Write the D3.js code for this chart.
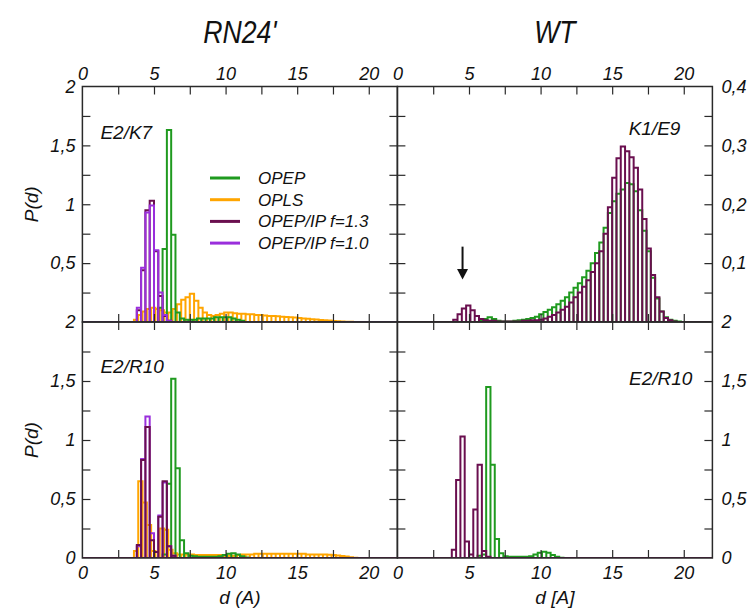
<!DOCTYPE html>
<html>
<head>
<meta charset="utf-8">
<script src="https://cdn.jsdelivr.net/npm/d3@7"></script>
<style>
  body { margin: 0; background: #fff; }
  svg text { font-family: "Liberation Sans", Arial, sans-serif; font-style: italic; fill: #111; }
  .tick-label text { font-size: 18px; }
  .panel-label { font-size: 19px; }
  .legend text { font-size: 17px; }
  .axis-title { font-size: 19px; }
  .col-title { font-size: 31px; }
</style>
</head>
<body>
<svg id="chart" width="755" height="611"></svg>
<script>
// ---- data ----
const BIN = 0.3;                       // histogram bin width, Angstrom
const columns = ["RN24'", "WT"];
const xTitles = ["d (A)", "d [A]"];
const xLabelTicks = [0, 5, 10, 15, 20];
const xMinorTicks = [2.5, 5, 7.5, 10, 12.5, 15, 17.5, 20];
const yLabelTicksP = [0, 0.5, 1, 1.5, 2];
const yMinorTicksP = [0.25, 0.5, 0.75, 1, 1.25, 1.5, 1.75];
const yLabelTicksWT = [0.1, 0.2, 0.3, 0.4];
const yMinorTicksWT = [0.05, 0.1, 0.15, 0.2, 0.25, 0.3, 0.35];
const seriesNames = ["OPEP", "OPLS", "OPEP/IP f=1.3", "OPEP/IP f=1.0"];

// RN24' E2/K7
const k7Opep = { from: 5.3, p: [0.12, 0.62, 1.63, 0.74, 0.08, 0.03, 0.02, 0.02, 0.02, 0.03, 0.03, 0.03, 0.03, 0.04, 0.04, 0.04, 0.04, 0.03, 0.02, 0.01] };
const k7Opls = { from: 3.6, p: [0.02, 0.06, 0.09, 0.11, 0.12, 0.11, 0.10, 0.08, 0.08, 0.11, 0.15, 0.19, 0.21, 0.24, 0.18, 0.12, 0.08, 0.06, 0.05, 0.06, 0.07, 0.08, 0.08, 0.075, 0.07, 0.07, 0.065, 0.065, 0.06, 0.06, 0.055, 0.05, 0.05, 0.048, 0.045, 0.043, 0.04, 0.038, 0.035, 0.03, 0.027, 0.024, 0.021, 0.018, 0.015, 0.012, 0.009, 0.007, 0.005, 0.003, 0.002, 0.001] };
const k7Ip13 = { from: 3.8, p: [0.10, 0.44, 0.95, 1.03, 0.60, 0.22, 0.05, 0.01] };
const k7Ip10 = { from: 3.8, p: [0.12, 0.46, 0.93, 0.99, 0.61, 0.25, 0.06, 0.01] };

// RN24' E2/R10
const r10Opep = { from: 5.6, p: [0.03, 0.63, 1.52, 0.76, 0.15, 0.04, 0.02, 0.015, 0.01, 0.01, 0.01, 0.01, 0.01, 0.015, 0.025, 0.035, 0.04, 0.03, 0.015, 0.005] };
const r10Opls = { from: 3.6, p: [0.06, 0.65, 0.47, 0.28, 0.06, 0.05, 0.25, 0.24, 0.07, 0.04, 0.03, 0.03, 0.03, 0.03, 0.025, 0.025, 0.025, 0.025, 0.025, 0.025, 0.025, 0.02, 0.02, 0.02, 0.025, 0.03, 0.03, 0.03, 0.035, 0.035, 0.035, 0.035, 0.035, 0.035, 0.035, 0.035, 0.035, 0.035, 0.035, 0.035, 0.03, 0.03, 0.03, 0.03, 0.03, 0.028, 0.025, 0.022, 0.018, 0.012, 0.007, 0.003, 0.001] };
const r10Ip13 = { from: 3.8, p: [0.11, 0.83, 1.11, 0.15, 0.05, 0.35, 0.65, 0.10, 0.02] };
const r10Ip10 = { from: 3.8, p: [0.10, 0.84, 1.20, 0.21, 0.05, 0.36, 0.64, 0.10, 0.02] };

// WT K1/E9
const wtE9Opep = { from: 5.7, p: [0.002, 0.005, 0.008, 0.005, 0.002, 0.001, 0.001, 0.001, 0.002, 0.003, 0.004, 0.005, 0.007, 0.009, 0.013, 0.017, 0.021, 0.025, 0.03, 0.036, 0.042, 0.05, 0.058, 0.066, 0.076, 0.087, 0.10, 0.117, 0.135, 0.16, 0.185, 0.205, 0.218, 0.225, 0.236, 0.234, 0.222, 0.19, 0.155, 0.12, 0.075, 0.04, 0.018, 0.008, 0.004, 0.002, 0.001] };
const wtE9Ip13 = { from: 3.9, p: [0.004, 0.013, 0.023, 0.028, 0.02, 0.01, 0.005, 0.003, 0.002, 0.002, 0.001, 0.001, 0.001, 0.001, 0.001, 0.001, 0.002, 0.002, 0.003, 0.003, 0.004, 0.006, 0.009, 0.012, 0.016, 0.021, 0.026, 0.033, 0.042, 0.05, 0.06, 0.071, 0.085, 0.10, 0.12, 0.15, 0.195, 0.245, 0.278, 0.298, 0.29, 0.28, 0.262, 0.225, 0.175, 0.125, 0.08, 0.042, 0.018, 0.007, 0.003, 0.001] };

// WT E2/R10
const wtR10Opep = { from: 5.6, p: [0.02, 0.03, 1.45, 0.79, 0.16, 0.04, 0.015, 0.01, 0.01, 0.01, 0.01, 0.01, 0.015, 0.03, 0.045, 0.053, 0.045, 0.025, 0.01, 0.003] };
const wtR10Ip13 = { from: 3.8, p: [0.07, 0.66, 1.03, 0.14, 0.03, 0.41, 0.79, 0.06, 0.01] };

// ---- styles ----
const colors = {
  "OPEP": "#1f9a1f",
  "OPLS": "#ffa500",
  "OPEP/IP f=1.3": "#6a0f4f",
  "OPEP/IP f=1.0": "#9a2fdc"
};
const frameColor = "#2a2a2a";

const panels = [
  { col: 0, row: 0, label: "E2/K7", yMax: 2, series: [["OPLS", k7Opls], ["OPEP", k7Opep], ["OPEP/IP f=1.3", k7Ip13], ["OPEP/IP f=1.0", k7Ip10]] },
  { col: 1, row: 0, label: "K1/E9", yMax: 0.4, series: [["OPEP", wtE9Opep], ["OPEP/IP f=1.3", wtE9Ip13]] },
  { col: 0, row: 1, label: "E2/R10", yMax: 2, series: [["OPLS", r10Opls], ["OPEP", r10Opep], ["OPEP/IP f=1.0", r10Ip10], ["OPEP/IP f=1.3", r10Ip13]] },
  { col: 1, row: 1, label: "E2/R10", yMax: 2, series: [["OPEP", wtR10Opep], ["OPEP/IP f=1.3", wtR10Ip13]] }
];

// ---- layout ----
const colEdges = [82.4, 397.4, 712.4];
const rowEdges = [86.5, 322, 558];
const tickLen = 8;
const fmt = d => d3.format("~g")(d).replace(".", ",");

const svg = d3.select("#chart");

const xScales = [0, 1].map(c => d3.scaleLinear().domain([0, 22]).range([colEdges[c], colEdges[c + 1]]));

// clip paths
const defs = svg.append("defs");
panels.forEach((p, i) => {
  defs.append("clipPath").attr("id", "clip" + i)
    .append("rect")
    .attr("x", colEdges[p.col]).attr("y", rowEdges[p.row])
    .attr("width", colEdges[p.col + 1] - colEdges[p.col])
    .attr("height", rowEdges[p.row + 1] - rowEdges[p.row]);
});

function styleTicks(g) {
  g.select(".domain").remove();
  g.selectAll(".tick line").attr("stroke", frameColor).attr("stroke-width", 1.2);
}

panels.forEach((p, i) => {
  const x = xScales[p.col];
  const y = d3.scaleLinear().domain([0, p.yMax]).range([rowEdges[p.row + 1], rowEdges[p.row]]);
  p.y = y;
  const y0 = y(0);

  // histograms drawn as outlined bins
  const hist = svg.append("g").attr("clip-path", `url(#clip${i})`);
  p.series.forEach(([name, s]) => {
    let d = "";
    s.p.forEach((v, k) => {
      const x0 = x(s.from + k * BIN), x1 = x(s.from + (k + 1) * BIN);
      d += `M${x0},${y0}V${y(v)}H${x1}V${y0}`;
    });
    d += `M${x(0)},${y0}H${x(22)}`;
    hist.append("path")
      .attr("d", d)
      .attr("fill", "none")
      .attr("stroke", colors[name])
      .attr("stroke-width", 2);
  });

  // inward ticks on all four sides
  const minorY = p.yMax === 2 ? yMinorTicksP : yMinorTicksWT;
  svg.append("g").attr("transform", `translate(0,${rowEdges[p.row]})`)
    .call(d3.axisTop(x).tickValues(xMinorTicks).tickSize(-tickLen).tickFormat(""))
    .call(styleTicks);
  svg.append("g").attr("transform", `translate(0,${rowEdges[p.row + 1]})`)
    .call(d3.axisBottom(x).tickValues(xMinorTicks).tickSize(-tickLen).tickFormat(""))
    .call(styleTicks);
  svg.append("g").attr("transform", `translate(${colEdges[p.col]},0)`)
    .call(d3.axisLeft(y).tickValues(minorY).tickSize(-tickLen).tickFormat(""))
    .call(styleTicks);
  svg.append("g").attr("transform", `translate(${colEdges[p.col + 1]},0)`)
    .call(d3.axisRight(y).tickValues(minorY).tickSize(-tickLen).tickFormat(""))
    .call(styleTicks);

  // frame
  svg.append("rect")
    .attr("x", colEdges[p.col]).attr("y", rowEdges[p.row])
    .attr("width", colEdges[p.col + 1] - colEdges[p.col])
    .attr("height", rowEdges[p.row + 1] - rowEdges[p.row])
    .attr("fill", "none").attr("stroke", frameColor).attr("stroke-width", 1.5);

  // tick labels
  if (p.row === 0) {
    svg.append("g").attr("class", "tick-label").attr("transform", `translate(0,${rowEdges[0]})`)
      .call(d3.axisTop(x).tickValues(xLabelTicks).tickSize(0).tickPadding(7).tickFormat(fmt))
      .call(g => g.select(".domain").remove());
  } else {
    svg.append("g").attr("class", "tick-label").attr("transform", `translate(0,${rowEdges[2]})`)
      .call(d3.axisBottom(x).tickValues(xLabelTicks).tickSize(0).tickPadding(8).tickFormat(fmt))
      .call(g => g.select(".domain").remove());
  }
  const yLab = p.yMax === 2 ? yLabelTicksP.filter(v => p.row === 1 || v > 0) : yLabelTicksWT;
  if (p.col === 0) {
    svg.append("g").attr("class", "tick-label").attr("transform", `translate(${colEdges[0]},0)`)
      .call(d3.axisLeft(y).tickValues(yLab).tickSize(0).tickPadding(7).tickFormat(fmt))
      .call(g => g.select(".domain").remove());
  } else {
    svg.append("g").attr("class", "tick-label").attr("transform", `translate(${colEdges[2]},0)`)
      .call(d3.axisRight(y).tickValues(yLab).tickSize(0).tickPadding(9).tickFormat(fmt))
      .call(g => g.select(".domain").remove());
  }

  // panel label
  svg.append("text").attr("class", "panel-label")
    .attr("x", p.col === 0 ? colEdges[p.col] + 18 : colEdges[p.col + 1] - (p.row === 0 ? 32 : 20))
    .attr("y", p.row === 0 ? rowEdges[0] + (p.col === 0 ? 52 : 48) : rowEdges[1] + (p.col === 0 ? 51 : 63))
    .attr("text-anchor", p.col === 0 ? "start" : "end")
    .text(p.label);
});

// column titles and axis titles
columns.forEach((c, i) => {
  const cx = (colEdges[i] + colEdges[i + 1]) / 2;
  svg.append("text").attr("class", "col-title")
    .attr("transform", `translate(${cx},43) scale(0.86,1)`)
    .attr("text-anchor", "middle")
    .text(c);
  svg.append("text").attr("class", "axis-title")
    .attr("x", cx).attr("y", 604)
    .attr("text-anchor", "middle")
    .text(xTitles[i]);
});
[0, 1].forEach(r => {
  const cy = (rowEdges[r] + rowEdges[r + 1]) / 2;
  svg.append("text").attr("class", "axis-title")
    .attr("transform", `translate(38,${cy}) rotate(-90)`)
    .attr("text-anchor", "middle")
    .text("P(d)");
});

// legend (top-left panel)
const legend = svg.append("g").attr("class", "legend");
seriesNames.forEach((n, i) => {
  const ly = 178 + i * 21.7;
  legend.append("line")
    .attr("x1", 210).attr("x2", 240).attr("y1", ly).attr("y2", ly)
    .attr("stroke", colors[n]).attr("stroke-width", 3);
  legend.append("text").attr("x", 258).attr("y", ly + 6).text(n);
});

// arrow marking the small K1/E9 peak
const pWT = panels[1];
const ax = xScales[1](4.55);
svg.append("line")
  .attr("x1", ax).attr("x2", ax)
  .attr("y1", pWT.y(0.128)).attr("y2", pWT.y(0.085))
  .attr("stroke", "#111").attr("stroke-width", 2);
svg.append("path")
  .attr("d", `M${ax - 5.5},${pWT.y(0.09)}L${ax + 5.5},${pWT.y(0.09)}L${ax},${pWT.y(0.072)}Z`)
  .attr("fill", "#111");
</script>
</body>
</html>
